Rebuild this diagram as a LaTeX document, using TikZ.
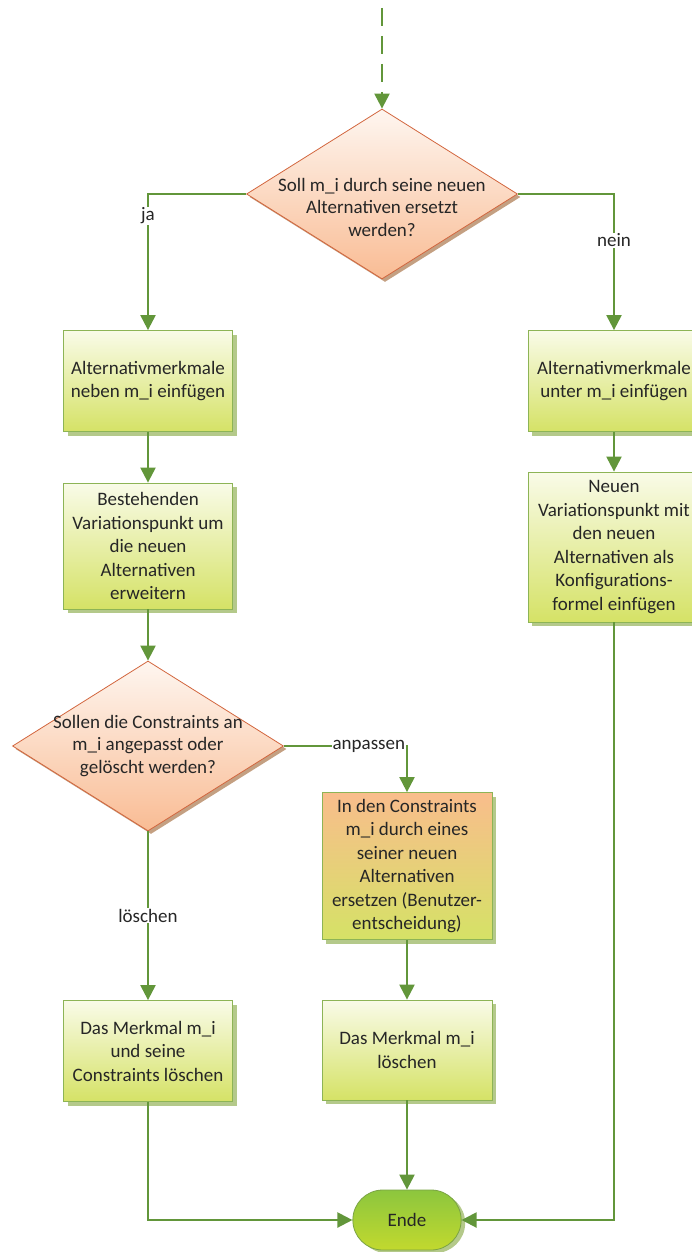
\documentclass[tikz,border=0pt]{standalone}
\usepackage{fontspec}
\setmainfont{Carlito}
\usepackage{tikz}
\usetikzlibrary{shapes.geometric,shapes.misc,arrows.meta,positioning,calc,shadows}

\definecolor{flowgreen}{RGB}{98,150,58}
\definecolor{boxtop}{RGB}{249,251,232}
\definecolor{boxbot}{RGB}{213,226,102}
\definecolor{boxline}{RGB}{141,180,86}
\definecolor{boxshade}{RGB}{180,201,138}
\definecolor{dectop}{RGB}{254,246,240}
\definecolor{decbot}{RGB}{249,188,148}
\definecolor{decline}{RGB}{210,102,62}
\definecolor{decshade}{RGB}{196,160,130}
\definecolor{endetop}{RGB}{140,198,62}
\definecolor{endebot}{RGB}{194,217,46}
\definecolor{endeline}{RGB}{122,163,68}
\definecolor{orangetop}{RGB}{249,189,140}
\definecolor{txt}{RGB}{38,38,38}

\tikzset{
  every node/.style={font=\fontsize{19}{23.5}\selectfont, text=txt},
  actbox/.style={rectangle, draw=boxline, line width=0.8pt, align=center,
    shading=axis, top color=boxtop, bottom color=boxbot,
    minimum width=169pt, minimum height=101pt, inner sep=2pt,
    drop shadow={shadow xshift=4pt, shadow yshift=-4pt, fill=boxshade, opacity=1}},
  decbox/.style={diamond, draw=decline, line width=0.8pt,
    shading=axis, top color=dectop, bottom color=decbot,
    minimum width=271pt, minimum height=170pt, inner sep=0pt,
    drop shadow={shadow xshift=3pt, shadow yshift=-3pt, fill=decshade, opacity=1}},
  dectext/.style={align=center, inner sep=0pt, font=\fontsize{19}{22.5}\selectfont},
  endbox/.style={rounded rectangle, draw=endeline, line width=0.8pt,
    shading=axis, top color=endetop, bottom color=endebot,
    minimum width=115pt, minimum height=60pt,
    drop shadow={shadow xshift=4pt, shadow yshift=-3pt, fill=boxshade, opacity=1}},
  flow/.style={draw=flowgreen, line width=2.2pt, ->},
  lbl/.style={fill=white, inner sep=1pt},
  >={Triangle[width=15pt,length=15pt]}
}

\begin{document}
\begin{tikzpicture}[x=1pt,y=-1pt]
\useasboundingbox (0,0) rectangle (691,1252);

% Entscheidungen
\node[decbox, label={[dectext, yshift=-13pt]center:Soll m\_i durch seine neuen\\Alternativen ersetzt\\werden?}] (frage1) at (382,194) {};
\node[decbox, label={[dectext]center:Sollen die Constraints an\\m\_i angepasst oder\\gelöscht werden?}] (frage2) at (148,746) {};

% linker Zweig
\node[actbox] (neben) at (148,381) {Alternativmerkmale\\neben m\_i einfügen};
\node[actbox, minimum height=126pt] (erweitern) at (148,546) {Bestehenden\\Variationspunkt um\\die neuen\\Alternativen\\erweitern};
\node[actbox] (loeschenA) at (148,1051) {Das Merkmal m\_i\\und seine\\Constraints löschen};

% rechter Zweig
\node[actbox, minimum width=172pt] (unter) at (614,381) {Alternativmerkmale\\unter m\_i einfügen};
\node[actbox, minimum width=172pt, minimum height=150pt] (neuVP) at (614,547) {Neuen\\Variationspunkt mit\\den neuen\\Alternativen als\\Konfigurations-\\formel einfügen};

% mittlerer Zweig
\node[actbox, minimum width=170pt, minimum height=147pt, top color=orangetop] (ersetzen) at (407,866) {In den Constraints\\m\_i durch eines\\seiner neuen\\Alternativen\\ersetzen (Benutzer-\\entscheidung)};
\node[actbox, minimum width=170pt, minimum height=100pt] (loeschenB) at (407,1050) {Das Merkmal m\_i\\löschen};

\node[endbox] (ende) at (407,1220) {Ende};

% Verbindungen
\coordinate (start) at (382,8);
\draw[flow, dashed, dash pattern=on 18pt off 10pt] (start) -- (frage1.north);
\draw[flow] (frage1.west) -| node[lbl, pos=0.58] {ja} (neben.north);
\draw[flow] (frage1.east) -| node[lbl, pos=0.67] {nein} (unter.north);
\draw[flow] (neben) -- (erweitern);
\draw[flow] (erweitern) -- (frage2.north);
\draw[flow] (unter) -- (neuVP);
\draw[flow] (frage2.east) -| node[lbl, pos=0.345] {anpassen} (ersetzen.north);
\draw[flow] (frage2.south) -- node[lbl] {löschen} (loeschenA.north);
\draw[flow] (ersetzen) -- (loeschenB);
\draw[flow] (loeschenA.south) |- (ende.west);
\draw[flow] (loeschenB.south) -- (ende.north);
\draw[flow] (neuVP.south) |- (ende.east);
\end{tikzpicture}
\end{document}
